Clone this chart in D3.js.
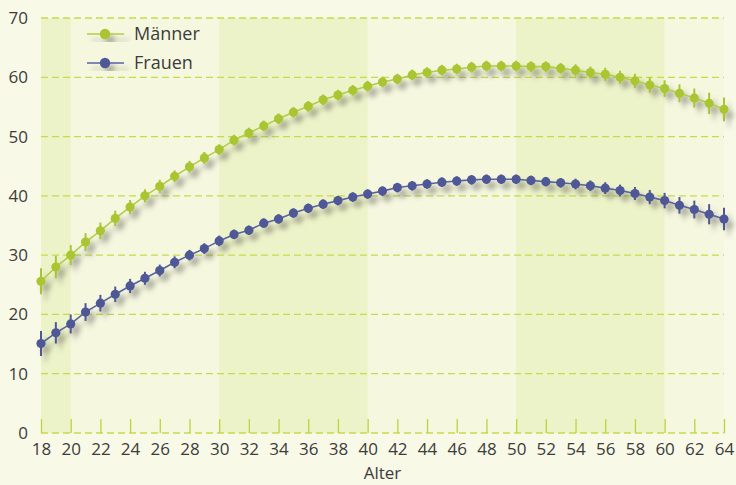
<!DOCTYPE html>
<html><head><meta charset="utf-8">
<script src="https://cdn.jsdelivr.net/npm/d3@7"></script>
<style>
html,body{margin:0;padding:0;background:#f9f9e8;}
svg{display:block;}
text{font-family:"Open Sans","Noto Sans",sans-serif;font-stretch:90%;fill:#3c3c3c;}
</style></head>
<body>
<svg id="c" width="736" height="485"></svg>
<script>
const ages = d3.range(18, 65);
const maenner = [25.6,28.0,30.0,32.2,34.1,36.2,38.1,40.0,41.6,43.3,44.9,46.4,47.8,49.4,50.6,51.8,53.0,54.1,55.1,56.2,57.0,57.8,58.5,59.2,59.7,60.4,60.8,61.2,61.4,61.7,61.9,61.9,61.9,61.8,61.8,61.5,61.2,60.8,60.5,60.0,59.4,58.7,58.1,57.3,56.5,55.6,54.6];
const frauen  = [15.1,16.9,18.4,20.4,21.9,23.4,24.8,26.1,27.4,28.8,30.0,31.1,32.4,33.5,34.2,35.4,36.1,37.1,37.9,38.6,39.2,39.8,40.3,40.8,41.4,41.7,42.0,42.3,42.5,42.7,42.8,42.8,42.8,42.6,42.4,42.2,42.0,41.7,41.3,40.9,40.4,39.8,39.2,38.4,37.7,36.9,36.1];
const errM = [2.2,1.9,1.7,1.5,1.4,1.3,1.2,1.1,1.1,1.0,1.0,1.0,0.9,0.9,0.9,0.9,0.9,0.9,0.9,0.9,0.9,0.9,0.9,0.9,0.9,0.9,0.9,0.9,0.9,0.9,0.9,0.9,0.9,0.9,0.9,0.9,1.0,1.0,1.1,1.1,1.2,1.3,1.4,1.5,1.6,1.8,2.0];
const errF = [2.1,1.8,1.6,1.5,1.4,1.3,1.2,1.1,1.0,1.0,0.9,0.9,0.9,0.8,0.8,0.8,0.8,0.8,0.8,0.8,0.8,0.8,0.8,0.8,0.8,0.8,0.8,0.8,0.8,0.8,0.8,0.8,0.8,0.8,0.8,0.8,0.9,0.9,1.0,1.0,1.1,1.2,1.3,1.4,1.5,1.7,1.9];
const xTicks = d3.range(18, 65, 2);
const yTicks = [0,10,20,30,40,50,60,70];
const bands = [[18,20],[30,40],[50,60]];
const seriesNames = ["Männer","Frauen"];
const xLabel = "Alter";

const colM = "#a9c533", colMLine = "#b3cd45";
const colF = "#4f5896", colFLine = "#5a62a0";

const svg = d3.select("#c");
const x = d3.scaleLinear().domain([18,64]).range([41,724]);
const y = d3.scaleLinear().domain([0,70]).range([433,18]);

const defs = svg.append("defs");
const f = defs.append("filter").attr("id","sh").attr("x","-20%").attr("y","-20%").attr("width","140%").attr("height","140%");
f.append("feGaussianBlur").attr("in","SourceAlpha").attr("stdDeviation",2.6).attr("result","b");
f.append("feOffset").attr("in","b").attr("dx",5).attr("dy",6).attr("result","o");
f.append("feFlood").attr("flood-color","#5a5a50").attr("flood-opacity",0.45).attr("result","c");
f.append("feComposite").attr("in","c").attr("in2","o").attr("operator","in").attr("result","s");
const m = f.append("feMerge");
m.append("feMergeNode").attr("in","s");
m.append("feMergeNode").attr("in","SourceGraphic");

// plot background
svg.append("rect").attr("x",x(18)).attr("y",y(70)).attr("width",x(64)-x(18)).attr("height",y(0)-y(70)).attr("fill","#f5f7df");
svg.selectAll("rect.band").data(bands).enter().append("rect").attr("class","band")
  .attr("x",d=>x(d[0])).attr("y",y(70)).attr("width",d=>x(d[1])-x(d[0])).attr("height",y(0)-y(70)).attr("fill","#edf3c9");

// gridlines
svg.selectAll("line.grid").data(yTicks).enter().append("line").attr("class","grid")
  .attr("x1",x(18)).attr("x2",x(64)).attr("y1",d=>y(d)).attr("y2",d=>y(d))
  .attr("stroke","#c6db4a").attr("stroke-width",1.3).attr("stroke-dasharray","7,4");

// x axis
const xa = svg.append("g").attr("transform",`translate(0,${y(0)})`)
  .call(d3.axisBottom(x).tickValues(xTicks).tickSize(-14).tickPadding(10).tickFormat(d3.format("d")));
xa.select(".domain").remove();
xa.selectAll(".tick line").attr("stroke","#bcd43a").attr("stroke-width",1.3);
xa.selectAll(".tick text").attr("font-size",17).attr("fill","#3c3c3c").attr("font-family",null);
svg.append("text").attr("x",(x(18)+x(64))/2).attr("y",479).attr("text-anchor","middle").attr("font-size",17).text(xLabel);

// y axis
const ya = svg.append("g").attr("transform",`translate(${x(18)},0)`)
  .call(d3.axisLeft(y).tickValues(yTicks).tickSize(0).tickPadding(13).tickFormat(d3.format("d")));
ya.select(".domain").remove();
ya.selectAll(".tick text").attr("font-size",17).attr("fill","#3c3c3c").attr("font-family",null);

// series
const series = [
  {vals: maenner, err: errM, col: colM, line: colMLine},
  {vals: frauen, err: errF, col: colF, line: colFLine}
];
const lineGen = d3.line().x(d=>x(d[0])).y(d=>y(d[1]));
series.forEach(s => {
  const g = svg.append("g").attr("filter","url(#sh)");
  const pts = ages.map((a,i)=>[a, s.vals[i], s.err[i]]);
  g.append("path").datum(pts).attr("d",lineGen).attr("fill","none").attr("stroke",s.line).attr("stroke-width",1.6);
  g.selectAll("line.err").data(pts).enter().append("line")
    .attr("x1",d=>x(d[0])).attr("x2",d=>x(d[0])).attr("y1",d=>y(d[1]-d[2])).attr("y2",d=>y(d[1]+d[2]))
    .attr("stroke",s.col).attr("stroke-width",2);
  g.selectAll("circle").data(pts).enter().append("circle")
    .attr("cx",d=>x(d[0])).attr("cy",d=>y(d[1])).attr("r",4.6).attr("fill",s.col);
});

// legend
const leg = svg.append("g");
seriesNames.forEach((n,i)=>{
  const yy = 34 + i*29;
  const s = series[i];
  const g = leg.append("g").attr("filter","url(#sh)");
  g.append("line").attr("x1",87).attr("x2",124).attr("y1",yy).attr("y2",yy).attr("stroke",s.line).attr("stroke-width",1.6);
  g.append("circle").attr("cx",105).attr("cy",yy).attr("r",5.2).attr("fill",s.col);
  leg.append("text").attr("x",134).attr("y",yy+6).attr("font-size",18).text(n);
});
</script>
</body></html>
